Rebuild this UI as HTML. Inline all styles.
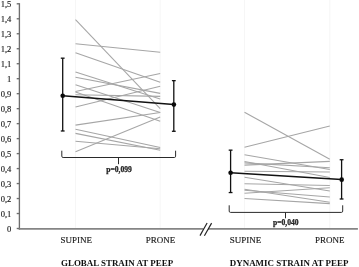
<!DOCTYPE html>
<html><head><meta charset="utf-8"><title>Strain at PEEP</title>
<style>
html,body{margin:0;padding:0;background:#fff;}
body{width:359px;height:267px;position:relative;overflow:hidden;font-family:"Liberation Serif","Times New Roman",serif;color:#1a1a1a;}
.yl{-webkit-text-stroke:0.15px #1a1a1a;position:absolute;left:0;width:11.3px;text-align:right;font-size:8.5px;line-height:10px;height:10px;white-space:nowrap;}
.xl{-webkit-text-stroke:0.15px #1a1a1a;position:absolute;font-size:9.0px;line-height:10px;white-space:nowrap;top:234.55px;}
.tt{position:absolute;font-size:8.95px;line-height:10px;font-weight:bold;white-space:nowrap;top:257.5px;color:#111;}
.pv{-webkit-text-stroke:0.25px #222;position:absolute;font-size:7.6px;line-height:9px;font-weight:bold;white-space:nowrap;color:#222;}
</style></head><body>
<svg width="359" height="267" viewBox="0 0 359 267" style="position:absolute;left:0;top:0">
<line x1="75.5" y1="0" x2="75.5" y2="228" stroke="#f6f6f6" stroke-width="1"/>
<line x1="160.2" y1="0" x2="160.2" y2="228" stroke="#f6f6f6" stroke-width="1"/>
<line x1="244.5" y1="0" x2="244.5" y2="228" stroke="#f6f6f6" stroke-width="1"/>
<line x1="329.8" y1="0" x2="329.8" y2="228" stroke="#f6f6f6" stroke-width="1"/>
<g stroke="#a6a6a6" stroke-width="1.05" fill="none">
<line x1="75.5" y1="19.53" x2="160.2" y2="108.66"/>
<line x1="75.5" y1="43.65" x2="160.2" y2="52.19"/>
<line x1="75.5" y1="52.63" x2="160.2" y2="82.15"/>
<line x1="75.5" y1="71.96" x2="160.2" y2="98.92"/>
<line x1="75.5" y1="77.2" x2="160.2" y2="93.38"/>
<line x1="75.5" y1="84.69" x2="160.2" y2="112.4"/>
<line x1="75.5" y1="91.58" x2="160.2" y2="73.46"/>
<line x1="75.5" y1="91.88" x2="160.2" y2="121.24"/>
<line x1="75.5" y1="94.73" x2="160.2" y2="96.38"/>
<line x1="75.5" y1="107.01" x2="160.2" y2="86.19"/>
<line x1="75.5" y1="125.14" x2="160.2" y2="112.4"/>
<line x1="75.5" y1="129.18" x2="160.2" y2="147.46"/>
<line x1="75.5" y1="133.38" x2="160.2" y2="150.3"/>
<line x1="75.5" y1="141.32" x2="160.2" y2="148.81"/>
<line x1="75.5" y1="151.65" x2="160.2" y2="117.05"/>
<line x1="244.5" y1="112.26" x2="329.8" y2="159.29"/>
<line x1="244.5" y1="147.31" x2="329.8" y2="126.04"/>
<line x1="244.5" y1="154.65" x2="329.8" y2="169.48"/>
<line x1="244.5" y1="161.54" x2="329.8" y2="177.57"/>
<line x1="244.5" y1="162.89" x2="329.8" y2="167.83"/>
<line x1="244.5" y1="165.13" x2="329.8" y2="161.39"/>
<line x1="244.5" y1="171.28" x2="329.8" y2="172.03"/>
<line x1="244.5" y1="177.27" x2="329.8" y2="191.05"/>
<line x1="244.5" y1="183.71" x2="329.8" y2="185.51"/>
<line x1="244.5" y1="189.25" x2="329.8" y2="202.28"/>
<line x1="244.5" y1="193.15" x2="329.8" y2="187.75"/>
<line x1="244.5" y1="190.3" x2="329.8" y2="197.04"/>
<line x1="244.5" y1="198.54" x2="329.8" y2="203.63"/>
</g>
<g stroke="#6e6e6e" stroke-width="1.35" fill="none">
<line x1="19.4" y1="3.2" x2="19.4" y2="229.6"/>
<line x1="18.8" y1="228.9" x2="357.9" y2="228.9" stroke="#858585" stroke-width="1.8"/>
<line x1="16.7" y1="228.5" x2="19.4" y2="228.5"/>
<line x1="16.7" y1="213.52" x2="19.4" y2="213.52"/>
<line x1="16.7" y1="198.54" x2="19.4" y2="198.54"/>
<line x1="16.7" y1="183.56" x2="19.4" y2="183.56"/>
<line x1="16.7" y1="168.58" x2="19.4" y2="168.58"/>
<line x1="16.7" y1="153.6" x2="19.4" y2="153.6"/>
<line x1="16.7" y1="138.62" x2="19.4" y2="138.62"/>
<line x1="16.7" y1="123.64" x2="19.4" y2="123.64"/>
<line x1="16.7" y1="108.66" x2="19.4" y2="108.66"/>
<line x1="16.7" y1="93.68" x2="19.4" y2="93.68"/>
<line x1="16.7" y1="78.7" x2="19.4" y2="78.7"/>
<line x1="16.7" y1="63.72" x2="19.4" y2="63.72"/>
<line x1="16.7" y1="48.74" x2="19.4" y2="48.74"/>
<line x1="16.7" y1="33.76" x2="19.4" y2="33.76"/>
<line x1="16.7" y1="18.78" x2="19.4" y2="18.78"/>
<line x1="16.7" y1="3.8" x2="19.4" y2="3.8"/>
</g>
<g stroke="#fff" stroke-width="3"><line x1="203.5" y1="228.9" x2="208" y2="228.9"/></g>
<g stroke="#222" stroke-width="1.15" fill="none">
<line x1="200.0" y1="235.6" x2="207.1" y2="223.0"/>
<line x1="204.4" y1="235.7" x2="211.6" y2="223.1"/>
</g>
<g stroke="#111" stroke-width="1.3" fill="none">
<line x1="62.7" y1="58.18" x2="62.7" y2="130.98"/>
<line x1="60.800000000000004" y1="58.18" x2="64.60000000000001" y2="58.18"/>
<line x1="60.800000000000004" y1="130.98" x2="64.60000000000001" y2="130.98"/>
<line x1="173.8" y1="80.65" x2="173.8" y2="131.28"/>
<line x1="171.9" y1="80.65" x2="175.70000000000002" y2="80.65"/>
<line x1="171.9" y1="131.28" x2="175.70000000000002" y2="131.28"/>
<line x1="230.6" y1="150.15" x2="230.6" y2="192.55"/>
<line x1="228.7" y1="150.15" x2="232.5" y2="150.15"/>
<line x1="228.7" y1="192.55" x2="232.5" y2="192.55"/>
<line x1="341.6" y1="159.74" x2="341.6" y2="198.99"/>
<line x1="339.70000000000005" y1="159.74" x2="343.5" y2="159.74"/>
<line x1="339.70000000000005" y1="198.99" x2="343.5" y2="198.99"/>
<line x1="62.7" y1="95.78" x2="173.8" y2="104.47" stroke-width="1.5"/>
<line x1="230.6" y1="172.77" x2="341.6" y2="179.52" stroke-width="1.5"/>
</g>
<circle cx="62.7" cy="95.78" r="2.3" fill="#0a0a0a"/>
<circle cx="173.9" cy="104.62" r="2.3" fill="#0a0a0a"/>
<circle cx="230.6" cy="172.77" r="2.3" fill="#0a0a0a"/>
<circle cx="341.7" cy="179.67" r="2.3" fill="#0a0a0a"/>
<g stroke="#2a2a2a" stroke-width="1.0" fill="none">
<path d="M61.8 150.7 L61.8 156.2 Q61.8 157.5 63.099999999999994 157.5 L174.29999999999998 157.5 Q175.6 157.5 175.6 156.2 L175.6 150.7"/><line x1="118.5" y1="157.5" x2="118.5" y2="164.2"/>
<path d="M229.2 205.3 L229.2 211.1 Q229.2 212.4 230.5 212.4 L341.4 212.4 Q342.7 212.4 342.7 211.1 L342.7 205.3"/><line x1="285.5" y1="212.4" x2="285.5" y2="218.3"/>
</g>
</svg>
<div class="yl" style="top:223.90px">0</div><div class="yl" style="top:208.92px">0,1</div><div class="yl" style="top:193.94px">0,2</div><div class="yl" style="top:178.96px">0,3</div><div class="yl" style="top:163.98px">0,4</div><div class="yl" style="top:149.00px">0,5</div><div class="yl" style="top:134.02px">0,6</div><div class="yl" style="top:119.04px">0,7</div><div class="yl" style="top:104.06px">0,8</div><div class="yl" style="top:89.08px">0,9</div><div class="yl" style="top:74.10px">1</div><div class="yl" style="top:59.12px">1,1</div><div class="yl" style="top:44.14px">1,2</div><div class="yl" style="top:29.16px">1,3</div><div class="yl" style="top:14.18px">1,4</div><div class="yl" style="top:-0.80px">1,5</div>
<div class="xl" style="left:60.4px">SUPINE</div>
<div class="xl" style="left:145.8px">PRONE</div>
<div class="xl" style="left:229.8px">SUPINE</div>
<div class="xl" style="left:315.0px">PRONE</div>
<div class="tt" style="left:61.0px">GLOBAL STRAIN AT PEEP</div>
<div class="tt" style="left:229.8px">DYNAMIC STRAIN AT PEEP</div>
<div class="pv" style="left:106.2px;top:164.6px">p=0,099</div>
<div class="pv" style="left:273.0px;top:217.6px">p=0,040</div>
</body></html>
